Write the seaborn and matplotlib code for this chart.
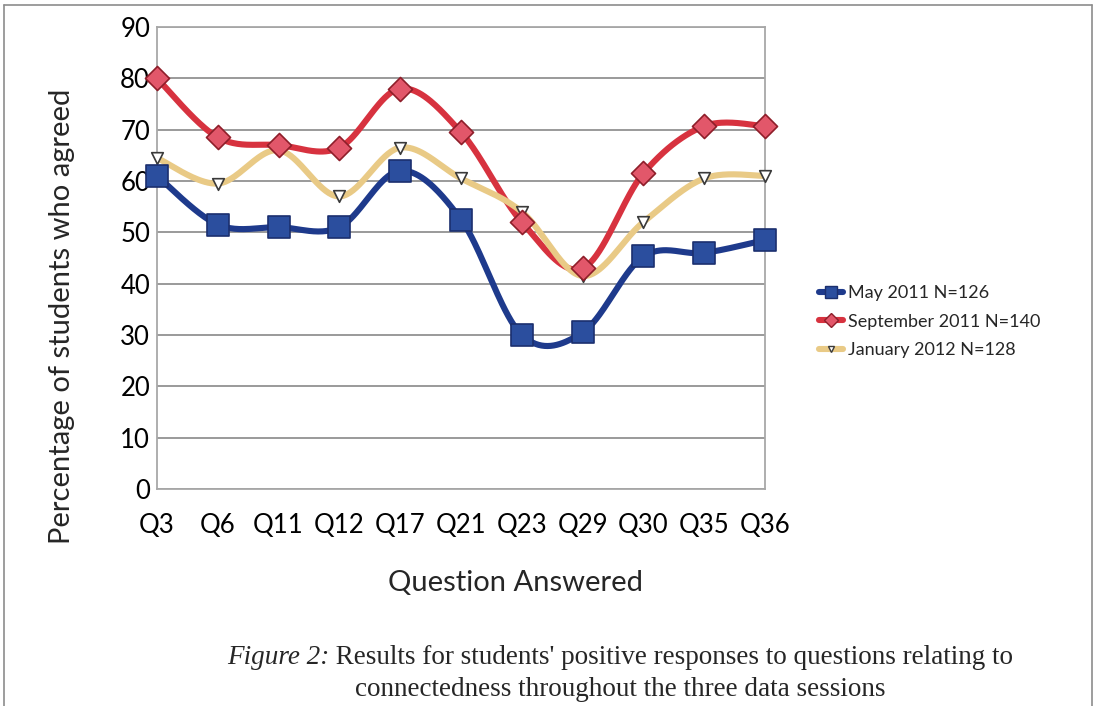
import numpy as np
import pandas as pd
import matplotlib
matplotlib.use("Agg")
import matplotlib.pyplot as plt
from matplotlib.lines import Line2D
import seaborn as sns

questions = ["Q3", "Q6", "Q11", "Q12", "Q17", "Q21", "Q23", "Q29", "Q30", "Q35", "Q36"]
may_2011 = [61, 51.5, 51, 51, 62, 52.5, 30, 30.5, 45.3, 46, 48.5]
sep_2011 = [80, 68.5, 67, 66.5, 78, 69.5, 52, 43, 61.5, 70.7, 70.7]
jan_2012 = [64.5, 59.5, 66, 57, 66.5, 60.5, 54, 41.5, 52, 60.5, 61]
series_names = ["May 2011 N=126", "September 2011 N=140", "January 2012 N=128"]

sns.set_theme(style="white")
plt.rcParams["font.family"] = ["Lato", "DejaVu Sans"]

W, H = 1101, 706
fig = plt.figure(figsize=(W / 100, H / 100), dpi=100)
fig.patch.set_facecolor("white")


def fx(px):
    return px / W


def fy(py):
    return 1 - py / H


ax = fig.add_axes([fx(157), fy(489), fx(765) - fx(157), fy(27) - fy(489)])


def smooth(y, n=40):
    """Bezier smoothing between consecutive points (Catmull-Rom style control points)."""
    x = np.arange(len(y), dtype=float)
    y = np.asarray(y, dtype=float)
    xs, ys = [], []
    for i in range(len(y) - 1):
        p0 = np.array([x[max(i - 1, 0)], y[max(i - 1, 0)]])
        p1 = np.array([x[i], y[i]])
        p2 = np.array([x[i + 1], y[i + 1]])
        p3 = np.array([x[min(i + 2, len(y) - 1)], y[min(i + 2, len(y) - 1)]])
        c1 = p1 + (p2 - p0) / 6.0
        c2 = p2 - (p3 - p1) / 6.0
        t = np.linspace(0, 1, n, endpoint=(i == len(y) - 2))[:, None]
        pts = ((1 - t) ** 3) * p1 + 3 * ((1 - t) ** 2) * t * c1 + 3 * (1 - t) * t ** 2 * c2 + t ** 3 * p2
        xs.append(pts[:, 0])
        ys.append(pts[:, 1])
    return np.concatenate(xs), np.concatenate(ys)


styles = [
    dict(values=may_2011, line="#1E3A8C", face="#2B4E9E", edge="#1B2F6E", marker="s", size=240, lw=4.4),
    dict(values=sep_2011, line="#D7323F", face="#E2576A", edge="#8E1E2A", marker="D", size=150, lw=4.4),
    dict(values=jan_2012, line="#E9CA86", face="#FFFFFF", edge="#3A3A3A", marker="v", size=70, lw=4.4),
]

# draw order: yellow beneath, then red, then blue on top
for idx in [2, 1, 0]:
    st = styles[idx]
    sx, sy = smooth(st["values"])
    curve = pd.DataFrame({"x": sx, "y": sy})
    sns.lineplot(data=curve, x="x", y="y", ax=ax, color=st["line"], lw=st["lw"],
                 sort=False, estimator=None, zorder=3 + idx * 0.1, clip_on=False)
for idx in [2, 1, 0]:
    st = styles[idx]
    pts = pd.DataFrame({"x": np.arange(len(questions)), "y": st["values"]})
    sns.scatterplot(data=pts, x="x", y="y", ax=ax, marker=st["marker"], s=st["size"],
                    color=st["face"], edgecolor=st["edge"], linewidth=1.2,
                    zorder=5 + (2 - idx), clip_on=False)

ax.set_xlim(0, len(questions) - 1)
ax.set_ylim(0, 90)
ax.set_yticks(np.arange(0, 91, 10))
ax.set_xticks(np.arange(len(questions)))
ax.set_xticklabels(questions)
ax.grid(axis="y", color="#9A9A9A", lw=1.4)
ax.grid(axis="x", visible=False)
ax.set_axisbelow(True)
for s in ax.spines.values():
    s.set_color("#A8A8A8")
    s.set_linewidth(1.3)
ax.tick_params(axis="y", labelsize=18.5, pad=5, length=0, colors="black")
ax.tick_params(axis="x", labelsize=18.5, pad=17, length=0, colors="black")
ax.set_xlabel("")
ax.set_ylabel("")

fig.text(fx(62), fy(316), "Percentage of students who agreed", rotation=90,
         ha="center", va="center", fontsize=21)
fig.text(fx(516), fy(583), "Question Answered", ha="center", va="center", fontsize=21)

handles = []
for st in styles:
    handles.append(Line2D([0], [0], color=st["line"], lw=st["lw"], marker=st["marker"],
                          markersize=np.sqrt(st["size"]) * 0.55, markerfacecolor=st["face"],
                          markeredgecolor=st["edge"]))
leg = fig.legend(handles, series_names, loc="upper left",
                 bbox_to_anchor=(fx(810), fy(276)), frameon=False, fontsize=13,
                 handlelength=1.3, handletextpad=0.3, labelspacing=0.7, borderpad=0)

# caption below the chart: italic label followed by regular text, centred as one line
serif = "Liberation Serif"
cap_size = 19.5
fig.canvas.draw()
renderer = fig.canvas.get_renderer()
lead = fig.text(0, fy(657), "Figure 2:", fontsize=cap_size, family=serif, style="italic",
                ha="left", va="center")
rest = fig.text(0, fy(657), " Results for students' positive responses to questions relating to",
                fontsize=cap_size, family=serif, ha="left", va="center")
w_lead = lead.get_window_extent(renderer).width
w_rest = rest.get_window_extent(renderer).width
x0 = 620 - (w_lead + w_rest) / 2
lead.set_x(fx(x0))
rest.set_x(fx(x0 + w_lead))
fig.text(fx(620), fy(690), "connectedness throughout the three data sessions",
         ha="center", va="center", fontsize=cap_size, family=serif)

# frame around the chart object
frame_color = "#8C8C8C"
fig.add_artist(Line2D([fx(4), fx(1092)], [fy(5), fy(5)], color=frame_color, lw=1.2))
fig.add_artist(Line2D([fx(4), fx(4)], [fy(5), 0], color=frame_color, lw=1.2))
fig.add_artist(Line2D([fx(1092), fx(1092)], [fy(5), 0], color=frame_color, lw=1.2))

fig.savefig("out.png", dpi=100, facecolor="white")
